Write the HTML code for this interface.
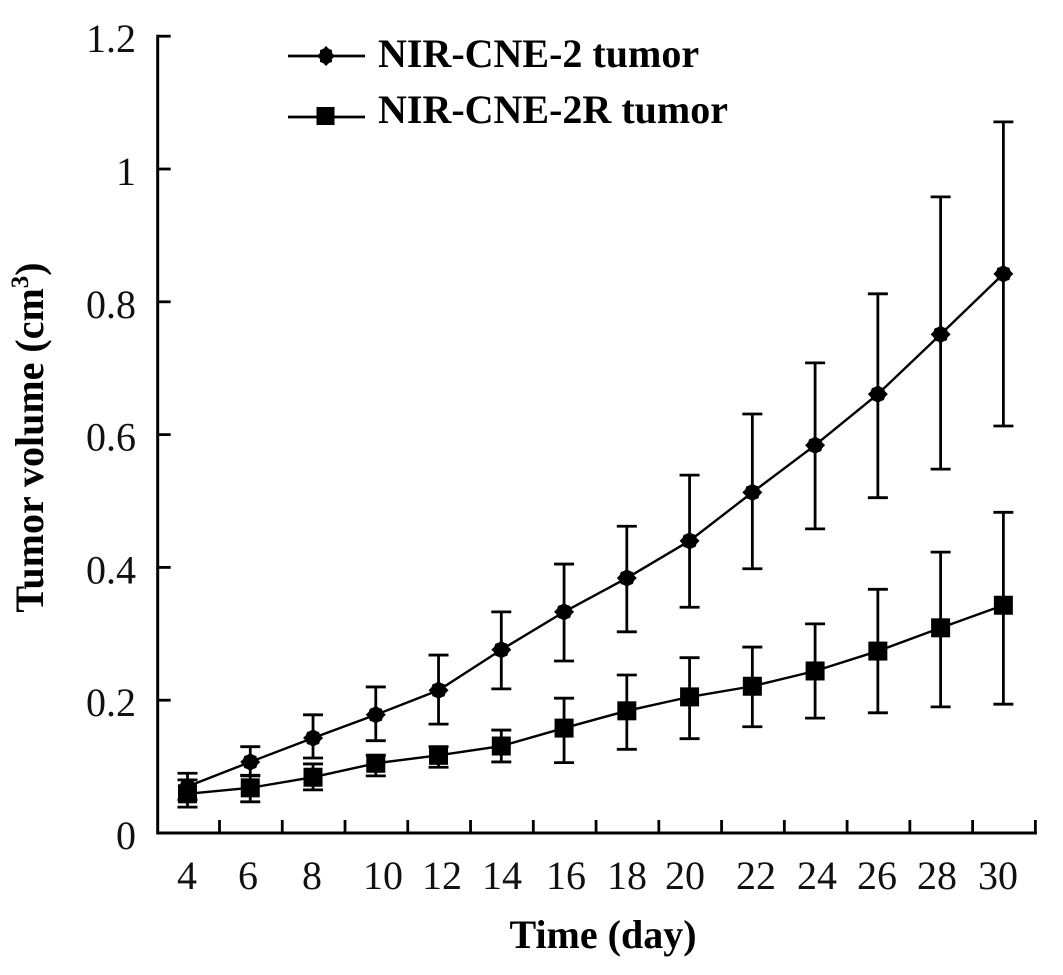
<!DOCTYPE html>
<html lang="en">
<head>
<meta charset="utf-8">
<title>Tumor volume over time</title>
<style>
html,body{margin:0;padding:0;background:#fff;}
svg{display:block;}
text{fill:#111;font-family:"Liberation Serif",serif;}
.tick{font-size:40px;}
.title{font-size:40px;font-weight:bold;fill:#000;}
</style>
</head>
<body>
<svg id="chart" width="1063" height="975" viewBox="0 0 1063 975" xmlns="http://www.w3.org/2000/svg">
  <g id="axes"></g>
  <g>
    <text class="tick" x="187" y="889" text-anchor="middle">4</text>
    <text class="tick" x="248" y="889" text-anchor="middle">6</text>
    <text class="tick" x="312" y="889" text-anchor="middle">8</text>
    <text class="tick" x="383" y="889" text-anchor="middle">10</text>
    <text class="tick" x="442" y="889" text-anchor="middle">12</text>
    <text class="tick" x="502" y="889" text-anchor="middle">14</text>
    <text class="tick" x="566" y="889" text-anchor="middle">16</text>
    <text class="tick" x="627" y="889" text-anchor="middle">18</text>
    <text class="tick" x="685" y="889" text-anchor="middle">20</text>
    <text class="tick" x="756" y="889" text-anchor="middle">22</text>
    <text class="tick" x="817" y="889" text-anchor="middle">24</text>
    <text class="tick" x="877" y="889" text-anchor="middle">26</text>
    <text class="tick" x="937" y="889" text-anchor="middle">28</text>
    <text class="tick" x="998" y="889" text-anchor="middle">30</text>
  </g>
  <g id="series"></g>
  <text class="title" x="43" y="437.5" transform="rotate(-90 43 437.5)" text-anchor="middle">Tumor volume (cm<tspan font-size="25" dy="-15">3</tspan><tspan dy="15">)</tspan></text>
  <text class="title" x="603" y="948" text-anchor="middle">Time (day)</text>
  <g>
    <g>
      <line x1="288" x2="365" y1="56" y2="56" stroke="#000" stroke-width="2.8"></line>
      <polygon points="326,46 329,49 332,50 332,53 335,56 332,59 332,62 329,63 326,66 323,63 320,62 320,59 317,56 320,53 320,50 323,49" fill="#000"></polygon>
      <text class="title" x="378" y="67">NIR-CNE-2 tumor</text>
    </g>
    <g>
      <line x1="288" x2="365" y1="117" y2="117" stroke="#000" stroke-width="2.8"></line>
      <rect x="316.5" y="107" width="18" height="18" fill="#000"></rect>
      <text class="title" x="378" y="123">NIR-CNE-2R tumor</text>
    </g>
  </g>
</svg>
<script>
const days = [4, 6, 8, 10, 12, 14, 16, 18, 20, 22, 24, 26, 28, 30];
const yTicks = [0, 0.2, 0.4, 0.6, 0.8, 1, 1.2];

const cne2Mean = [0.07, 0.107, 0.143, 0.178, 0.215, 0.276, 0.333, 0.384, 0.44, 0.513, 0.584, 0.661, 0.751, 0.842];
const cne2Upper = [0.09, 0.13, 0.178, 0.22, 0.268, 0.333, 0.405, 0.462, 0.539, 0.631, 0.708, 0.812, 0.958, 1.071];
const cne2Lower = [0.05, 0.086, 0.113, 0.139, 0.164, 0.217, 0.259, 0.303, 0.34, 0.398, 0.458, 0.505, 0.548, 0.613];

const cne2rMean = [0.059, 0.068, 0.084, 0.105, 0.117, 0.131, 0.158, 0.184, 0.205, 0.221, 0.244, 0.274, 0.309, 0.343];
const cne2rUpper = [0.08, 0.087, 0.104, 0.117, 0.13, 0.155, 0.203, 0.238, 0.264, 0.28, 0.315, 0.367, 0.423, 0.483];
const cne2rLower = [0.039, 0.047, 0.065, 0.086, 0.099, 0.107, 0.106, 0.126, 0.142, 0.16, 0.173, 0.181, 0.19, 0.194];

const NS = 'http://www.w3.org/2000/svg';
const yAxisX = 157.7, yBottom = 833, yPerUnit = 664;
const xFirst = 187.5, xPerDay = 31.38, xFirstDay = 4;
const tickOffset = 32;

function xScale(day) { return xFirst + (day - xFirstDay) * xPerDay; }
function yScale(v) { return yBottom - v * yPerUnit; }

function make(tag, attrs, parent) {
  const e = document.createElementNS(NS, tag);
  for (const k in attrs) e.setAttribute(k, attrs[k]);
  parent.appendChild(e);
  return e;
}

const axes = document.getElementById('axes');
const series = document.getElementById('series');

const yLine = make('line', {x1: yAxisX, x2: yAxisX, y1: yScale(1.2) - 1.5, y2: yBottom + 1.5, stroke: '#000', 'stroke-width': 3}, axes);



const xLine = make('line', {x1: yAxisX, x2: xScale(30) + tickOffset + 1.5, y1: yBottom, y2: yBottom, stroke: '#000', 'stroke-width': 3}, axes);



yTicks.forEach(function (v) {
  const t = make('line', {x1: yAxisX, x2: yAxisX + 13, y1: yScale(v), y2: yScale(v), stroke: '#000', 'stroke-width': 2.8}, axes);
  
  
  const l = make('text', {x: 136, y: yScale(v) + 16, 'text-anchor': 'end', 'class': 'tick'}, axes);
  l.textContent = String(v);
  
  
});

days.forEach(function (d) {
  const tx = xScale(d) + tickOffset;
  const t = make('line', {x1: tx, x2: tx, y1: yBottom - 13, y2: yBottom, stroke: '#000', 'stroke-width': 2.8}, axes);
  
  
});

function errorBars(upper, lower, group) {
  days.forEach(function (d, i) {
    const x = xScale(d), yU = yScale(upper[i]), yL = yScale(lower[i]);
    const s = make('line', {x1: x, x2: x, y1: yU, y2: yL, stroke: '#000', 'stroke-width': 2.8}, group);
    
    
    const c1 = make('line', {x1: x - 10, x2: x + 10, y1: yU, y2: yU, stroke: '#000', 'stroke-width': 2.8}, group);
    
    
    const c2 = make('line', {x1: x - 10, x2: x + 10, y1: yL, y2: yL, stroke: '#000', 'stroke-width': 2.8}, group);
    
    
  });
}

function seriesLine(values, group) {
  const pts = days.map(function (d, i) { return xScale(d) + ',' + yScale(values[i]); }).join(' ');
  const p = make('polyline', {points: pts, fill: 'none', stroke: '#000', 'stroke-width': 2.4}, group);
  
  
}

const gA = make('g', {}, series);


const gB = make('g', {}, series);



errorBars(cne2Upper, cne2Lower, gA);
seriesLine(cne2Mean, gA);
days.forEach(function (d, i) {
  const x = xScale(d), y = yScale(cne2Mean[i]);
  const m = make('polygon', {points: [
    [0,-9],[3,-7],[6,-6],[7,-3],[10,0],[7,3],[6,6],[3,7],[0,9],[-3,7],[-6,6],[-7,3],[-10,0],[-7,-3],[-6,-6],[-3,-7]
  ].map(function (o) { return (x + o[0]) + ',' + (y + o[1]); }).join(' '), fill: '#000'}, gA);
  
  
});

errorBars(cne2rUpper, cne2rLower, gB);
seriesLine(cne2rMean, gB);
days.forEach(function (d, i) {
  const x = xScale(d), y = yScale(cne2rMean[i]);
  const m = make('rect', {x: x - 9.5, y: y - 9.5, width: 19, height: 19, fill: '#000'}, gB);
  
  
});
</script>
</body>
</html>
